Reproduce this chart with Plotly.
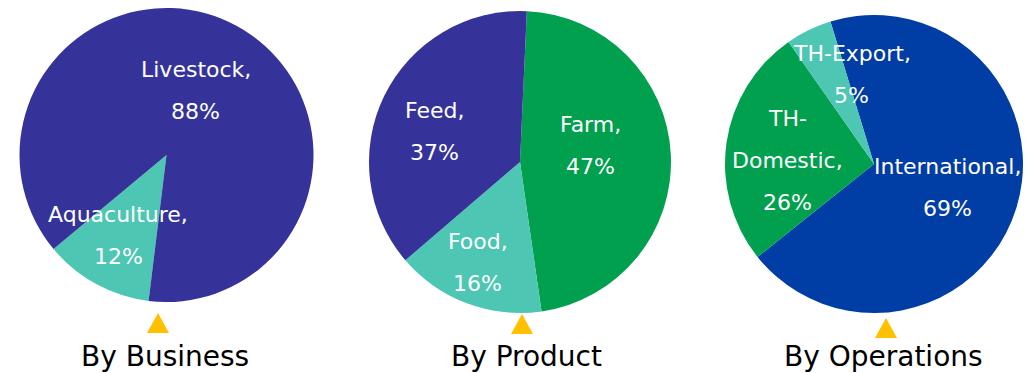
import math
import plotly.graph_objects as go

# Segment shares (%)
business_labels = ["Aquaculture", "Livestock"]
business_values = [12, 88]

product_labels = ["Farm", "Food", "Feed"]
product_values = [47, 16, 37]

operations_labels = ["International", "TH-Domestic", "TH-Export"]
operations_values = [69, 26, 5]

titles = ["By Business", "By Product", "By Operations"]

# Labels that wrap onto more than one line
wrapped = {"TH-Domestic": ["TH-", "Domestic,"]}

W, H = 1033, 373

PURPLE = "#35339A"
BLUE = "#003DA5"
GREEN = "#00A04E"
TEAL = "#4DC6B3"
GOLD = "#FFC000"

FONT = "DejaVu Sans"
LABEL_SIZE = 22
TITLE_SIZE = 28
LINE_GAP = 42

# Layout of each pie in pixels: centre, radius, start angle (deg clockwise
# from 12 o'clock), slice colours, label radial fraction and angle nudge.
pies = [
    dict(labels=business_labels, values=business_values, title=titles[0],
         cx=166.5, cy=155, r=147, rotation=187,
         colors=[TEAL, PURPLE], kr=[0.64, 0.48], nudge=[2.4, -4],
         tx=164.5, trix=158, triy=323),
    dict(labels=product_labels, values=product_values, title=titles[1],
         cx=520, cy=162, r=151, rotation=2.6,
         colors=[GREEN, TEAL, PURPLE], kr=[0.48, 0.72, 0.6], nudge=[-10, 2.2, -6.6],
         tx=526, trix=522, triy=324),
    dict(labels=operations_labels, values=operations_values, title=titles[2],
         cx=874, cy=164, r=149, rotation=-17,
         colors=[BLUE, GREEN, TEAL], kr=[0.52, 0.58, 0.62], nudge=[0.8, -5.6, 12],
         tx=883, trix=886, triy=328),
]


def px(x):
    return x / W


def py(y):
    return 1 - y / H


fig = go.Figure()
annotations = []
shapes = []

for p in pies:
    cx, cy, r = p["cx"], p["cy"], p["r"]
    fig.add_trace(go.Pie(
        labels=p["labels"], values=p["values"],
        sort=False, direction="clockwise", rotation=p["rotation"],
        marker=dict(colors=p["colors"], line=dict(width=0)),
        textinfo="none", hoverinfo="label+percent", showlegend=False,
        domain=dict(x=[px(cx - r), px(cx + r)], y=[py(cy + r), py(cy - r)]),
    ))

    total = sum(p["values"])
    start = p["rotation"]
    for i, (lab, val) in enumerate(zip(p["labels"], p["values"])):
        span = 360 * val / total
        mid = math.radians(start + span / 2 + p["nudge"][i])
        start += span
        lx = cx + p["kr"][i] * r * math.sin(mid)
        ly = cy - p["kr"][i] * r * math.cos(mid)
        lines = wrapped.get(lab, [lab + ","]) + [f"{val}%"]
        n = len(lines)
        for j, line in enumerate(lines):
            yy = ly + (j - (n - 1) / 2) * LINE_GAP
            annotations.append(dict(
                x=px(lx), y=py(yy), xref="paper", yref="paper",
                text=line, showarrow=False, xanchor="center", yanchor="middle",
                font=dict(family=FONT, size=LABEL_SIZE, color="white"),
            ))

    # gold marker under the pie
    tx, ty = p["trix"], p["triy"]
    shapes.append(dict(
        type="path", xref="paper", yref="paper",
        path=(f"M {px(tx - 11)} {py(ty + 10)} L {px(tx + 11)} {py(ty + 10)} "
              f"L {px(tx)} {py(ty - 10)} Z"),
        fillcolor=GOLD, line=dict(width=0),
    ))

    annotations.append(dict(
        x=px(p["tx"]), y=py(356), xref="paper", yref="paper",
        text=p["title"], showarrow=False, xanchor="center", yanchor="middle",
        font=dict(family=FONT, size=TITLE_SIZE, color="black"),
    ))

fig.update_layout(
    width=W, height=H,
    margin=dict(l=0, r=0, t=0, b=0),
    paper_bgcolor="white", plot_bgcolor="white",
    annotations=annotations, shapes=shapes,
)

fig.write_html("out.html")
